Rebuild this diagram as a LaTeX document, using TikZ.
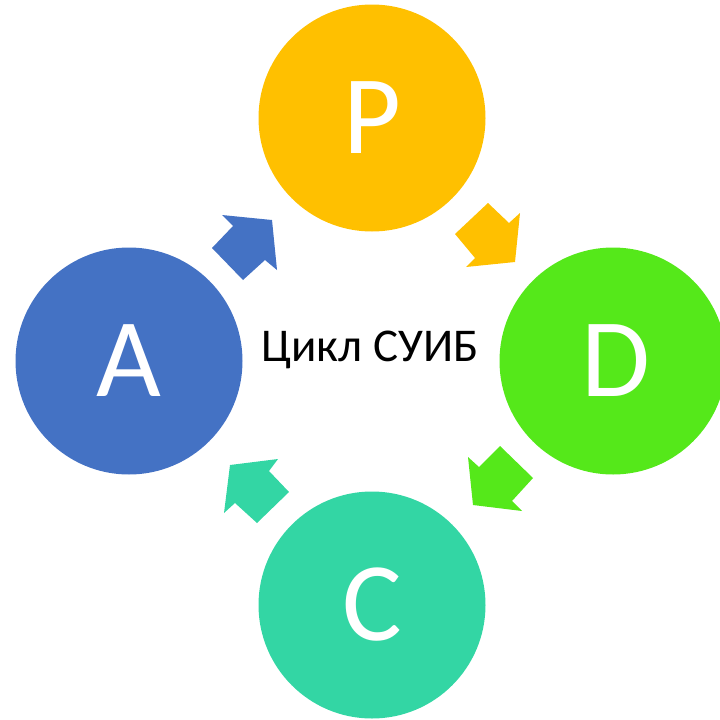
\documentclass[tikz,border=0pt]{standalone}
\usepackage{fontspec}
\setmainfont{Carlito}
\definecolor{cP}{HTML}{FFC000}
\definecolor{cD}{HTML}{55E81A}
\definecolor{cC}{HTML}{33D6A4}
\definecolor{cA}{HTML}{4472C4}
\begin{document}
\begin{tikzpicture}[x=1pt,y=-1pt,
  phase/.style={circle,minimum size=227pt,inner sep=0pt,text=white,font=\fontsize{112}{112}\selectfont}]
\useasboundingbox (0,0) rectangle (720,720);
\node[phase,fill=cP] (P) at (372,118) {P};
\node[phase,fill=cD] (D) at (613,361) {\hspace{6pt}D};
\node[phase,fill=cC] (C) at (372,605) {C};
\node[phase,fill=cA] (A) at (129,361) {A};
\node[font=\fontsize{47}{47}\selectfont] (T) at (370,350) {Цикл СУИБ};
% block arrows
\fill[cA] (212,248) -- (233,226) -- (222,215) -- (272,220) -- (277,270) -- (265,260) -- (243,280) -- cycle;
\fill[cP] (488,203) -- (509,223) -- (520,213) -- (515,262) -- (466,267) -- (475,258) -- (455,234) -- cycle;
\fill[cD] (533,478) -- (512,501) -- (522,511) -- (473,505) -- (468,457) -- (479,467) -- (500,446) -- cycle;
\fill[cC] (257,523) -- (235,503) -- (224,513) -- (230,465) -- (278,459) -- (269,471) -- (289,492) -- cycle;
\end{tikzpicture}
\end{document}
